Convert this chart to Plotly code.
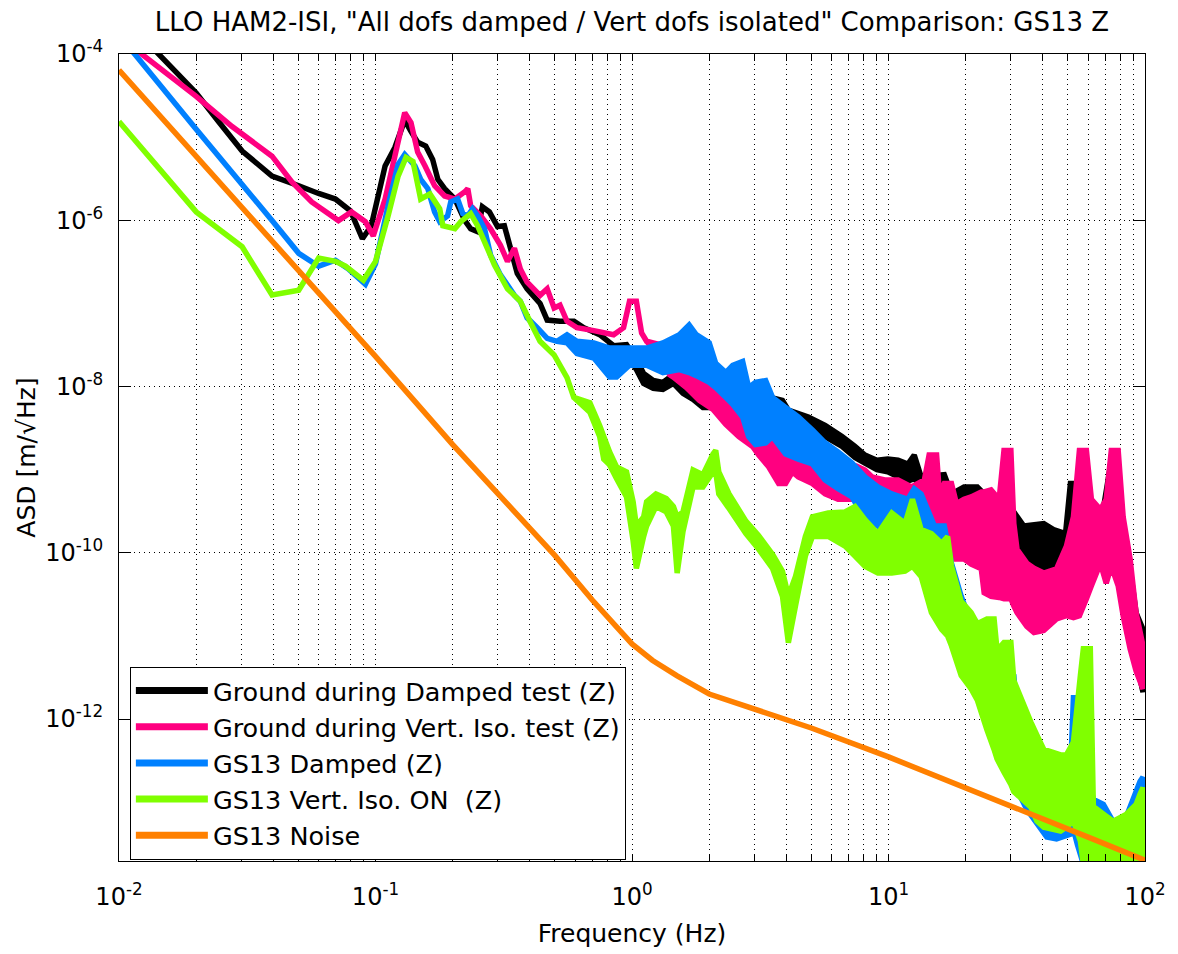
import plotly.graph_objects as go

# ---------------- data ----------------
# Frequencies in Hz, ASD in m/sqrt(Hz).
# "line" = part where the trace is a single thin curve,
# "band" = part where the dense spectrum fills a band (upper / lower envelope).

black_freq_line = [0.0100, 0.0144, 0.0200, 0.0246, 0.0302, 0.0395, 0.0502, 0.0600, 0.0698, 0.0798,
                   0.0889, 0.0963, 0.109, 0.119, 0.130, 0.1375, 0.146, 0.157, 0.167, 0.175,
                   0.186, 0.204, 0.223, 0.235, 0.250, 0.261, 0.278, 0.299, 0.318, 0.336,
                   0.357, 0.390, 0.438, 0.467, 0.524, 0.594, 0.649, 0.748, 0.848]
black_line = [3.1e-4, 9.7e-5, 3.4e-5, 1.5e-5, 6.8e-6, 3.4e-6, 2.6e-6, 2.1e-6, 1.8e-6, 1.3e-6,
              6.0e-7, 8.6e-7, 4.5e-6, 7.5e-6, 1.6e-5, 1.17e-5, 8.7e-6, 7.8e-6, 5.4e-6, 3.1e-6,
              2.4e-6, 1.8e-6, 9.9e-7, 7.9e-7, 7.3e-7, 1.45e-6, 1.26e-6, 8.4e-7, 8.6e-7, 4.6e-7,
              2.3e-7, 1.5e-7, 1.0e-7, 6.3e-8, 6.1e-8, 6.1e-8, 5.1e-8, 4.2e-8, 3.1e-8]
black_freq_band = [0.952, 1.04, 1.11, 1.21, 1.32, 1.45, 1.58, 1.73, 1.89, 2.12,
                   2.54, 3.12, 3.86, 4.07, 4.87, 5.66, 6.59, 7.40, 8.09, 9.01,
                   9.93, 10.9, 11.9, 12.6, 13.4, 16.5, 17.6, 19.7, 22.2, 23.6,
                   27.4, 28.2, 30.8, 33.7, 40.3, 44.0, 49.0, 51.2, 54.0, 56.0,
                   61.2, 68.8, 73.2, 78.6, 82.2, 87.5, 92.3, 98.2]
black_band_hi = [3.2e-8, 2.1e-8, 1.43e-8, 1.18e-8, 1.12e-8, 1.39e-8, 1.18e-8, 9.7e-9, 7.8e-9, 7.4e-9,
                 7.4e-9, 8.0e-9, 6.8e-9, 5.2e-9, 4.3e-9, 3.4e-9, 2.5e-9, 1.9e-9, 1.5e-9, 1.3e-9,
                 1.34e-9, 1.3e-9, 1.17e-9, 1.5e-9, 8.2e-10, 8.7e-10, 5.1e-10, 6.2e-10, 6.2e-10, 5.1e-10,
                 4.4e-10, 3.3e-10, 3.1e-10, 2.1e-10, 2.25e-10, 1.9e-10, 1.7e-10, 6.8e-10, 6.8e-10, 3.9e-10,
                 3.6e-10, 3.4e-10, 1.08e-9, 9.4e-10, 1.3e-10, 6.4e-11, 1.9e-11, 1.2e-11]
black_band_lo = [2.4e-8, 1.6e-8, 1.09e-8, 9.5e-9, 9.2e-9, 1.09e-8, 8.3e-9, 7.0e-9, 5.6e-9, 5.6e-9,
                 5.6e-9, 6.1e-9, 5.2e-9, 4.0e-9, 3.1e-9, 2.5e-9, 1.9e-9, 1.4e-9, 1.2e-9, 1.0e-9,
                 9.4e-10, 8.2e-10, 7.3e-10, 7.8e-10, 6.2e-10, 5.4e-10, 3.6e-10, 3.1e-10, 2.7e-10, 2.1e-10,
                 1.4e-10, 9.1e-11, 6.9e-11, 5.0e-11, 5.0e-11, 5.0e-11, 5.5e-11, 9.1e-11, 1.4e-10, 1.4e-10,
                 1.26e-10, 1.2e-10, 2.1e-10, 1.8e-10, 5.2e-11, 2.3e-11, 5.1e-12, 2.1e-12]

pink_freq_line = [0.0100, 0.0124, 0.0200, 0.0276, 0.0395, 0.0472, 0.0564, 0.0717, 0.0806, 0.0913,
                  0.098, 0.109, 0.119, 0.130, 0.1375, 0.146, 0.156, 0.170, 0.186, 0.204,
                  0.223, 0.229, 0.235, 0.257, 0.281, 0.307, 0.327, 0.348, 0.367, 0.390,
                  0.438, 0.467, 0.497, 0.524, 0.558, 0.610, 0.710, 0.848, 0.927, 0.978,
                  1.04, 1.09, 1.14]
pink_line = [1.64e-4, 9.7e-5, 3.1e-5, 1.34e-5, 5.9e-6, 2.9e-6, 1.66e-6, 9.9e-7, 1.26e-6, 9.6e-7,
             6.5e-7, 1.8e-6, 5.9e-6, 1.97e-5, 1.5e-5, 6.6e-6, 4.5e-6, 2.6e-6, 1.96e-6, 1.8e-6,
             2.2e-6, 2.4e-6, 1.5e-6, 1.13e-6, 7.9e-7, 5.0e-7, 3.2e-7, 4.6e-7, 2.6e-7, 1.8e-7,
             1.25e-7, 1.5e-7, 8.8e-8, 9.5e-8, 6.1e-8, 5.1e-8, 4.7e-8, 4.2e-8, 5.1e-8, 1.06e-7,
             1.06e-7, 4.4e-8, 3.5e-8]
pink_freq_band = [1.21, 1.28, 1.40, 1.45, 1.63, 1.83, 2.07, 2.32, 2.61, 2.95,
                  3.12, 3.41, 3.73, 3.97, 4.22, 4.45, 5.05, 5.66, 6.36, 7.21,
                  7.60, 8.09, 8.61, 9.67, 10.9, 12.3, 13.8, 14.4, 15.4, 15.8,
                  16.5, 17.6, 18.4, 19.7, 21.0, 23.0, 23.6, 25.1, 27.0, 28.2,
                  30.0, 30.8, 31.7, 34.6, 36.9, 40.3, 45.2, 49.4, 52.6, 55.5,
                  59.1, 61.8, 67.0, 70.6, 73.9, 78.6, 82.2, 87.5, 92.3, 98.2]
pink_band_hi = [3.35e-8, 3.2e-8, 2.5e-8, 1.8e-8, 2.2e-8, 1.7e-8, 1.06e-8, 7.4e-9, 6.1e-9, 3.9e-9,
                3.7e-9, 3.5e-9, 2.5e-9, 1.54e-9, 1.4e-9, 1.3e-9, 1.17e-9, 9.4e-10, 8.2e-10, 6.8e-10,
                1.08e-9, 9.9e-10, 8.2e-10, 7.5e-10, 7.5e-10, 6.2e-10, 7.5e-10, 1.5e-9, 1.5e-9, 5.1e-10,
                6.8e-10, 6.8e-10, 3.9e-10, 4.4e-10, 4.7e-10, 5.4e-10, 5.4e-10, 5.7e-10, 4.4e-10, 1.7e-9,
                1.7e-9, 2.25e-10, 1.1e-10, 7.5e-11, 6.5e-11, 5.7e-11, 6.4e-11, 1.2e-10, 2.7e-10, 1.7e-9,
                1.7e-9, 4.4e-10, 3.3e-10, 4.4e-10, 1.7e-9, 1.7e-9, 2.7e-10, 8.4e-11, 1.9e-11, 7.6e-12]
pink_band_lo = [2.8e-8, 2.4e-8, 1.39e-8, 1.3e-8, 9.7e-9, 6.8e-9, 5.3e-9, 3.5e-9, 2.5e-9, 1.9e-9,
                1.5e-9, 1.08e-9, 6.8e-10, 6.8e-10, 9.4e-10, 8.2e-10, 6.8e-10, 5.1e-10, 4.4e-10, 4.4e-10,
                4.7e-10, 4.1e-10, 2.7e-10, 1.7e-10, 1.57e-10, 1.5e-10, 1.45e-10, 1.45e-10, 1.45e-10, 1.4e-10,
                1.2e-10, 8.4e-11, 8.4e-11, 8.4e-11, 7.3e-11, 6.4e-11, 3.3e-11, 3.0e-11, 2.9e-11, 2.8e-11,
                2.8e-11, 2.3e-11, 1.9e-11, 1.3e-11, 1.1e-11, 1.16e-11, 1.6e-11, 1.75e-11, 1.66e-11, 1.75e-11,
                2.8e-11, 4.0e-11, 7.5e-11, 4.3e-11, 6.9e-11, 4.0e-11, 1.75e-11, 7.0e-12, 3.8e-12, 2.3e-12]

blue_freq_line = [0.0100, 0.0200, 0.0302, 0.0395, 0.0502, 0.0600, 0.0698, 0.0784, 0.0913, 0.100,
                  0.112, 0.1225, 0.130, 0.1425, 0.150, 0.160, 0.170, 0.178, 0.191, 0.1965,
                  0.209, 0.219, 0.229, 0.239, 0.250, 0.266, 0.281, 0.307, 0.327, 0.348,
                  0.367, 0.390, 0.427, 0.467, 0.510]
blue_line = [1.7e-4, 1.24e-5, 2.7e-6, 9.9e-7, 4.0e-7, 2.8e-7, 3.3e-7, 2.6e-7, 1.7e-7, 3.0e-7,
             1.5e-6, 4.7e-6, 6.2e-6, 4.5e-6, 3.1e-6, 2.4e-6, 1.26e-6, 9.6e-7, 1.13e-6, 1.66e-6,
             1.8e-6, 1.2e-6, 1.13e-6, 1.37e-6, 1.13e-6, 7.9e-7, 3.8e-7, 2.2e-7, 1.66e-7, 1.25e-7,
             1.06e-7, 6.7e-8, 5.1e-8, 3.8e-8, 3.5e-8]
blue_freq_band = [0.558, 0.610, 0.710, 0.818, 0.871, 0.978, 1.14, 1.32, 1.53, 1.67,
                  1.78, 2.00, 2.12, 2.32, 2.47, 2.70, 2.85, 3.03, 3.32, 3.53,
                  3.97, 4.45, 5.05, 5.66, 6.36, 7.21, 8.09, 9.09, 10.3, 11.9,
                  12.6, 13.4, 14.2, 15.1, 16.5, 17.6, 19.2, 20.3, 22.2, 26.5,
                  30.8, 31.7, 34.6, 41.4, 45.2, 51.2, 52.6, 54.5, 57.5, 62.9,
                  68.8, 77.2, 84.4, 95.6, 98.2]
blue_band_hi = [4.2e-8, 3.5e-8, 3.35e-8, 2.9e-8, 2.9e-8, 2.9e-8, 2.9e-8, 3.35e-8, 4.2e-8, 5.5e-8,
                4.2e-8, 3.35e-8, 1.9e-8, 1.47e-8, 1.8e-8, 2.0e-8, 9.7e-9, 1.12e-8, 1.18e-8, 7.4e-9,
                5.6e-9, 4.3e-9, 3.0e-9, 2.1e-9, 1.63e-9, 1.2e-9, 8.2e-10, 6.2e-10, 5.1e-10, 4.4e-10,
                5.9e-10, 5.1e-10, 3.3e-10, 2.1e-10, 2.1e-10, 7.5e-11, 3.0e-11, 1.9e-11, 1.44e-11, 6.7e-12,
                3.35e-12, 1.12e-12, 7.8e-13, 3.4e-13, 2.6e-13, 2.1e-13, 1.8e-12, 1.8e-12, 3.7e-13, 1.08e-13,
                9.4e-14, 5.0e-14, 6.6e-14, 1.77e-13, 2.0e-13]
blue_band_lo = [3.35e-8, 2.5e-8, 2.2e-8, 1.3e-8, 1.3e-8, 1.8e-8, 1.8e-8, 1.47e-8, 1.6e-8, 1.47e-8,
                1.35e-8, 1.12e-8, 9.7e-9, 7.4e-9, 6.1e-9, 4.3e-9, 2.5e-9, 2.0e-9, 2.1e-9, 2.5e-9,
                1.54e-9, 1.34e-9, 1.17e-9, 7.5e-10, 5.9e-10, 4.7e-10, 2.5e-10, 2.1e-10, 1.66e-10, 1.57e-10,
                1.4e-10, 1.4e-10, 1.3e-10, 6.9e-11, 3.0e-11, 1.52e-11, 7.6e-12, 5.1e-12, 2.2e-12, 5.6e-13,
                1.9e-13, 1.4e-13, 8.2e-14, 3.8e-14, 3.6e-14, 4.1e-14, 4.7e-14, 3.1e-14, 1.8e-14, 1.6e-14,
                1.6e-14, 1.6e-14, 1.6e-14, 1.6e-14, 1.6e-14]

green_freq_line = [0.0100, 0.0200, 0.0302, 0.0395, 0.0502, 0.0600, 0.0698, 0.0764, 0.0897, 0.100,
                   0.112, 0.1225, 0.1315, 0.140, 0.150, 0.163, 0.178, 0.183, 0.204, 0.215,
                   0.235, 0.250, 0.273, 0.291, 0.327, 0.367, 0.400, 0.438, 0.497, 0.558,
                   0.593]
green_line = [1.54e-5, 1.26e-6, 4.8e-7, 1.26e-7, 1.44e-7, 3.5e-7, 3.2e-7, 2.8e-7, 1.9e-7, 3.2e-7,
              1.13e-6, 3.4e-6, 5.7e-6, 5.1e-6, 1.8e-6, 2.07e-6, 1.37e-6, 8.6e-7, 7.9e-7, 9.6e-7,
              1.2e-6, 8.6e-7, 4.6e-7, 2.9e-7, 1.5e-7, 1.06e-7, 6.1e-8, 3.5e-8, 2.4e-8, 1.28e-8,
              7.4e-9]
green_freq_band = [0.685, 0.748, 0.776, 0.818, 0.871, 0.952, 1.01, 1.04, 1.11, 1.14,
                   1.24, 1.36, 1.45, 1.50, 1.58, 1.73, 1.89, 2.07, 2.12, 2.18,
                   2.39, 2.78, 3.12, 3.53, 3.86, 4.07, 4.34, 4.74, 5.05, 5.82,
                   6.77, 7.40, 8.09, 9.09, 10.3, 11.6, 12.4, 13.4, 14.7, 16.1,
                   17.0, 17.6, 19.2, 21.0, 22.2, 24.2, 25.8, 26.5, 28.2, 30.0,
                   30.8, 35.9, 37.9, 40.3, 46.9, 49.4, 52.6, 56.0, 57.5, 61.2,
                   62.9, 70.6, 75.2, 84.4, 92.3, 95.6, 98.2]
green_band_hi = [6.4e-9, 3.4e-9, 2.5e-9, 1.63e-9, 1.08e-9, 9.4e-10, 4.1e-10, 2.1e-10, 2.7e-10, 4.1e-10,
                 5.1e-10, 4.5e-10, 3.6e-10, 2.7e-10, 3.1e-10, 9.9e-10, 8.7e-10, 1.54e-9, 1.7e-9, 9.4e-10,
                 5.1e-10, 2.4e-10, 1.6e-10, 9.6e-11, 6.0e-11, 3.0e-11, 5.2e-11, 1.57e-10, 2.7e-10, 3.0e-10,
                 3.1e-10, 3.6e-10, 2.5e-10, 1.7e-10, 3.0e-10, 2.25e-10, 4.4e-10, 1.9e-10, 1.7e-10, 1.3e-10,
                 1.57e-10, 6.9e-11, 2.6e-11, 1.9e-11, 1.4e-11, 1.6e-11, 1.6e-11, 6.7e-12, 8.3e-12, 8.3e-12,
                 2.9e-12, 9.2e-13, 6.4e-13, 4.3e-13, 3.7e-13, 3.7e-13, 5.3e-13, 3.35e-12, 7.0e-12, 7.0e-12,
                 8.9e-14, 6.8e-14, 5.9e-14, 7.1e-14, 9.4e-14, 1.24e-13, 1.5e-13]
green_band_lo = [4.9e-9, 2.5e-9, 1.34e-9, 1.14e-9, 7.8e-10, 4.7e-10, 1.4e-10, 6.5e-11, 1.57e-10, 2.1e-10,
                 3.6e-10, 3.1e-10, 2.1e-10, 5.7e-11, 1.8e-10, 6.2e-10, 6.2e-10, 9.4e-10, 9.4e-10, 5.1e-10,
                 3.4e-10, 1.7e-10, 1.1e-10, 6.5e-11, 3.0e-11, 8.3e-12, 2.3e-11, 9.1e-11, 1.57e-10, 1.57e-10,
                 1.2e-10, 9.1e-11, 6.9e-11, 5.7e-11, 5.7e-11, 6.0e-11, 6.9e-11, 5.2e-11, 1.9e-11, 1.2e-11,
                 1.0e-11, 7.6e-12, 3.35e-12, 2.3e-12, 1.69e-12, 7.4e-13, 4.3e-13, 3.3e-13, 2.3e-13, 1.63e-13,
                 1.34e-13, 8.7e-14, 5.9e-14, 5.0e-14, 4.5e-14, 5.0e-14, 5.9e-14, 3.4e-14, 1.8e-14, 1.6e-14,
                 1.6e-14, 1.6e-14, 1.6e-14, 1.6e-14, 1.6e-14, 1.6e-14, 1.6e-14]

orange_freq = [0.01, 0.02, 0.05, 0.1, 0.2, 0.3, 0.5, 0.7, 1.0, 1.2, 1.5, 2.0, 3.0, 5.0,
               10, 20, 30, 40, 50, 60, 100]
orange_asd = [6.4e-5, 5.9e-6, 2.5e-7, 2.3e-8, 2.0e-9, 5.1e-10, 9.3e-11, 2.7e-11, 8.0e-12, 5.1e-12,
              3.3e-12, 2.0e-12, 1.3e-12, 7.8e-13, 3.5e-13, 1.5e-13, 8.9e-14, 6.4e-14, 4.9e-14, 3.8e-14,
              2.0e-14]

series_names = ["Ground during Damped test (Z)",
                "Ground during Vert. Iso. test (Z)",
                "GS13 Damped (Z)",
                "GS13 Vert. Iso. ON\u00a0 (Z)",
                "GS13 Noise"]
series_colors = ["#000000", "#FF0080", "#0080FF", "#80FF00", "#FF8000"]

x_tick_decades = [0.01, 0.1, 1, 10, 100]
x_tick_labels = ["10<sup>-2</sup>", "10<sup>-1</sup>", "10<sup>0</sup>", "10<sup>1</sup>", "10<sup>2</sup>"]
y_tick_vals = [1e-12, 1e-10, 1e-8, 1e-6, 1e-4]
y_tick_labels = ["10<sup>-12</sup>", "10<sup>-10</sup>", "10<sup>-8</sup>", "10<sup>-6</sup>", "10<sup>-4</sup>"]

title_text = 'LLO HAM2-ISI, "All dofs damped / Vert dofs isolated" Comparison: GS13 Z'

# ---------------- figure ----------------
FONT = "DejaVu Sans, Liberation Sans, Arial, sans-serif"
LW = 5.5


def band_trace(f_line, v_line, f_band, hi, lo, color):
    assert len(f_line) == len(v_line), (len(f_line), len(v_line))
    assert len(f_band) == len(hi) == len(lo), (len(f_band), len(hi), len(lo))
    freq = f_line + f_band
    upper = v_line + hi
    lower = v_line + lo
    return go.Scatter(x=freq + freq[::-1], y=upper + lower[::-1], mode="lines",
                      fill="toself", fillcolor=color,
                      line=dict(color=color, width=LW, simplify=False),
                      hoverinfo="skip", showlegend=False)


fig = go.Figure()
fig.add_trace(band_trace(black_freq_line, black_line, black_freq_band, black_band_hi, black_band_lo, series_colors[0]))
fig.add_trace(band_trace(pink_freq_line, pink_line, pink_freq_band, pink_band_hi, pink_band_lo, series_colors[1]))
fig.add_trace(band_trace(blue_freq_line, blue_line, blue_freq_band, blue_band_hi, blue_band_lo, series_colors[2]))
fig.add_trace(band_trace(green_freq_line, green_line, green_freq_band, green_band_hi, green_band_lo, series_colors[3]))
fig.add_trace(go.Scatter(x=orange_freq, y=orange_asd, mode="lines",
                         line=dict(color=series_colors[4], width=LW), hoverinfo="skip", showlegend=False))

# legend entries
for name, col in zip(series_names, series_colors):
    fig.add_trace(go.Scatter(x=[None], y=[None], mode="lines", name=name,
                             line=dict(color=col, width=7)))

# x ticks: every 1..9 x decade (grid), labels on decades only
x_tick_vals, x_tick_text = [], []
for d, lab in zip(x_tick_decades[:-1], x_tick_labels[:-1]):
    for k in range(1, 10):
        x_tick_vals.append(k * d)
        x_tick_text.append(lab if k == 1 else "")
x_tick_vals.append(x_tick_decades[-1])
x_tick_text.append(x_tick_labels[-1])

fig.update_layout(
    width=1178, height=954, autosize=False,
    margin=dict(l=119, r=26, t=54, b=87),
    paper_bgcolor="white", plot_bgcolor="white",
    font=dict(family=FONT, color="black", size=25),
    title=dict(text=title_text, x=0.5, xref="paper", xanchor="center",
               y=1 - 22 / 954, yref="container", yanchor="middle",
               font=dict(family=FONT, size=26, color="black")),
    showlegend=True,
    legend=dict(x=0.0106, y=0.241, xanchor="left", yanchor="top",
                bgcolor="white", bordercolor="black", borderwidth=1,
                font=dict(family=FONT, size=25.5, color="black"),
                itemwidth=72),
)

fig.update_xaxes(type="log", range=[-2, 2],
                 tickmode="array", tickvals=x_tick_vals, ticktext=x_tick_text,
                 ticks="inside", ticklen=7, tickcolor="black", tickwidth=1,
                 showline=True, linecolor="black", linewidth=1, mirror="allticks",
                 showgrid=True, gridcolor="#000000", gridwidth=1, griddash="1px,4px",
                 zeroline=False, tickfont=dict(family=FONT, size=24),
                 ticklabelstandoff=14,
                 title=dict(text="Frequency (Hz)", font=dict(family=FONT, size=25), standoff=14))
fig.update_yaxes(type="log", range=[-13.708, -4],
                 tickmode="array", tickvals=y_tick_vals, ticktext=y_tick_labels,
                 ticks="inside", ticklen=12, tickcolor="black", tickwidth=1,
                 showline=True, linecolor="black", linewidth=1, mirror="allticks",
                 showgrid=True, gridcolor="#000000", gridwidth=1, griddash="1px,4px",
                 zeroline=False, tickfont=dict(family=FONT, size=24),
                 ticklabelstandoff=10,
                 title=dict(text="ASD [m/\u221aHz]", font=dict(family=FONT, size=25), standoff=2))

fig.write_html("out.html")
